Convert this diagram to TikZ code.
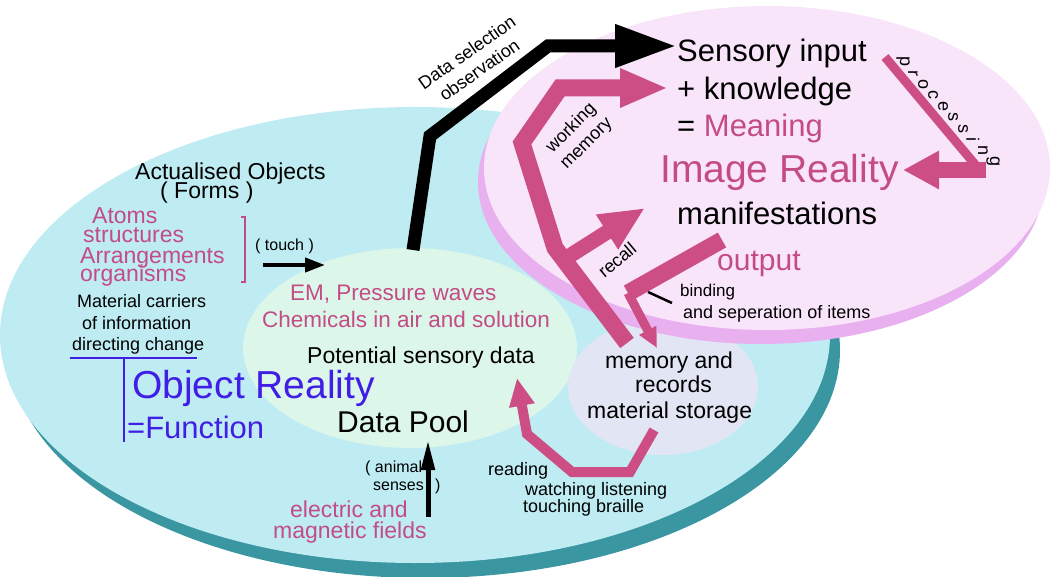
\documentclass[tikz,border=0pt]{standalone}
\usepackage{fontspec}
\setmainfont{Liberation Sans}
\usepackage{tikz}
\usetikzlibrary{arrows.meta}
\definecolor{cyantop}{RGB}{190,236,242}
\definecolor{tealrim}{RGB}{58,150,160}
\definecolor{pinktop}{RGB}{249,229,250}
\definecolor{pinkrim}{RGB}{233,176,240}
\definecolor{poolfill}{RGB}{220,246,234}
\definecolor{memfill}{RGB}{225,229,244}
\definecolor{bandpink}{RGB}{204,78,132}
\definecolor{txtpink}{RGB}{196,76,134}
\definecolor{objblue}{RGB}{64,30,230}

\begin{document}
\begin{tikzpicture}[x=1pt,y=-1pt]
      \tikzstyle{txt}=[inner sep=0pt,anchor=base west]
      \tikzstyle{txthuge}=[txt,font=\fontsize{39}{41}\selectfont]
      \tikzstyle{txtbig}=[txt,font=\fontsize{31}{33}\selectfont]
      \tikzstyle{txtmid}=[txt,font=\fontsize{23}{25}\selectfont]
      \tikzstyle{txtsmall}=[txt,font=\fontsize{18}{20}\selectfont]
      \tikzstyle{txttiny}=[txt,font=\fontsize{16}{18}\selectfont]
      \tikzstyle{tilted}=[inner sep=0pt,anchor=center,align=center,font=\fontsize{18}{21.6}\selectfont]
      \tikzstyle{blk}=[draw=black,line join=miter]
      \tikzstyle{band}=[draw=bandpink,line join=miter]
      \useasboundingbox (0,0) rectangle (1056,577);
      %%% discs
      \fill[tealrim] (425,350) ellipse [x radius=415, y radius=228];
      \fill[cyantop] (415,335) ellipse [x radius=415, y radius=228];
      \fill[poolfill] (410,348) ellipse [x radius=167, y radius=100];
      \fill[memfill] (663,387) ellipse [x radius=95, y radius=68];
      \fill[pinkrim] (761,182) ellipse [x radius=283, y radius=162];
      \fill[pinktop] (767,168) ellipse [x radius=283, y radius=162];
      %%% Object Reality
      \node[txtmid] (actual) at (135,180) {Actualised Objects};
      \node[txtmid] (forms) at (160,199) {( Forms )};
      \node[txtmid,txtpink] (atoms) at (92,223) {Atoms};
      \node[txtmid,txtpink] (struct) at (83,242) {structures};
      \node[txtmid,txtpink] (arrange) at (80,263) {Arrangements};
      \node[txtmid,txtpink] (organ) at (80,281) {organisms};
      \draw[txtpink,line width=2.5] (241,217) -- (245,217) -- (245,282) -- (241,282);
      \node[txttiny] (touch) at (255,250) {( touch )};
      \coordinate (t0) at (263,265);
      \coordinate (t1) at (325,265);
      \draw[blk,line width=4,-{Triangle[length=20pt,width=14pt]}] (t0) -- (t1);
      \node[txtsmall] (carriers) at (77,307) {Material carriers};
      \node[txtsmall] (info) at (82,329) {of information};
      \node[txtsmall] (directing) at (72,350) {directing change};
      \coordinate (u0) at (70,358);
      \coordinate (u1) at (197,358);
      \coordinate (v0) at (124,358);
      \coordinate (v1) at (124,442);
      \draw[objblue,line width=2.5] (u0) -- (u1);
      \draw[objblue,line width=2.5] (v0) -- (v1);
      \node[txthuge,objblue] (objreal) at (132,398) {Object Reality};
      \node[txtbig,objblue] (func) at (127,438) {=Function};
      %%% Data Pool
      \node[txtmid,font=\fontsize{22.5}{24}\selectfont,txtpink] (em) at (290,300) {EM, Pressure waves};
      \node[txtmid,font=\fontsize{22.5}{24}\selectfont,txtpink] (chem) at (262,327) {Chemicals in air and solution};
      \node[txtmid] (potential) at (307,363) {Potential sensory data};
      \node[txtbig,font=\fontsize{30}{32}\selectfont] (pool) at (337,432) {Data Pool};
      \node[txttiny] (animal) at (365,472) {( animal};
      \node[txttiny] (senses) at (373,490) {senses};
      \node[txttiny] (sensclose) at (435,490) {)};
      \coordinate (a0) at (428,517);
      \coordinate (a1) at (428,440);
      \draw[blk,line width=5,-{Triangle[length=30pt,width=13pt]}] (a0) -- (a1);
      \node[txtmid,txtpink] (electric) at (290,517) {electric and};
      \node[txtmid,txtpink] (magnetic) at (273,538) {magnetic fields};
      %%% memory
      \node[txtmid] (memory) at (605,368) {memory and};
      \node[txtmid] (records) at (635,392) {records};
      \node[txtmid] (storage) at (587,418) {material storage};
      \node[txtsmall] (reading) at (488,475) {reading};
      \node[txtsmall] (watching) at (525,495) {watching listening};
      \node[txtsmall] (touching) at (523,512) {touching braille};
      %%% Image Reality
      \node[txtbig] (sensory) at (677,62) {Sensory input};
      \node[txtbig] (knowledge) at (677,100) {+ knowledge};
      \node[txtbig] (meaning) at (677,137) {= \textcolor{txtpink}{Meaning}};
      \node[txthuge,txtpink] (imgreal) at (660,183) {Image Reality};
      \node[txtbig] (manif) at (677,225) {manifestations};
      \node[txtbig,font=\fontsize{30}{32}\selectfont,txtpink] (output) at (717,270) {output};
      \node[txtsmall,font=\fontsize{17}{19}\selectfont] (binding) at (680,296) {binding};
      \node[txtsmall] (seperation) at (683,318) {and seperation of items};
      \coordinate (b0) at (648,292);
      \coordinate (b1) at (672,303);
      \draw[blk,line width=2.5] (b0) -- (b1);
      \foreach \ch [count=\i from 0] in {p,r,o,c,e,s,s,i,n,g}
        \node[txtsmall,anchor=center,rotate=-90] (proc\i) at (903+10*\i,62+11.1*\i) {\ch};
      %%% arrows
      \coordinate (ds0) at (413,250);
      \coordinate (ds1) at (430,136);
      \coordinate (ds2) at (548,46);
      \coordinate (ds3) at (677,46);
      \draw[blk,line width=13,-{Triangle[length=62pt,width=40pt]}] (ds0) -- (ds1) -- (ds2) -- (ds3);
      \node[tilted,rotate=35] (datasel) at (473,61) {Data selection\\observation};
      \coordinate (wm0) at (627,343);
      \coordinate (wm1) at (555,248);
      \coordinate (wm2) at (522,143);
      \coordinate (wm3) at (560,88);
      \coordinate (wm4) at (668,88);
      \draw[band,line width=17,-{Triangle[length=48pt,width=36pt]}] (wm0) -- (wm1) -- (wm2) -- (wm3) -- (wm4);
      \node[tilted,rotate=45] (working) at (579,136) {working\\memory};
      \coordinate (rc0) at (560,262);
      \coordinate (rc1) at (645,208);
      \draw[band,line width=15,-{Triangle[length=45pt,width=38pt]}] (rc0) -- (rc1);
      \node[tilted,rotate=40] (recall) at (617,260) {recall};
      \coordinate (op0) at (722,240);
      \coordinate (op1) at (628,293);
      \coordinate (op2) at (657,348);
      \draw[band,line width=17] (op0) -- (op1);
      \draw[band,line width=9,-{Triangle[length=20pt,width=18pt]}] (op1) -- (op2);
      \coordinate (pr0) at (885,57);
      \coordinate (pr1) at (978,168);
      \coordinate (pr2) at (986,170);
      \coordinate (pr3) at (903,170);
      \draw[band,line width=9] (pr0) -- (pr1);
      \draw[band,line width=16,-{Triangle[length=36pt,width=36pt]}] (pr2) -- (pr3);
      \coordinate (rd0) at (654,430);
      \coordinate (rd1) at (630,472);
      \coordinate (rd2) at (572,472);
      \coordinate (rd3) at (527,434);
      \coordinate (rd4) at (517,378);
      \draw[band,line width=10,-{Triangle[length=28pt,width=24pt]}] (rd0) -- (rd1) -- (rd2) -- (rd3) -- (rd4);
\end{tikzpicture}
\end{document}
